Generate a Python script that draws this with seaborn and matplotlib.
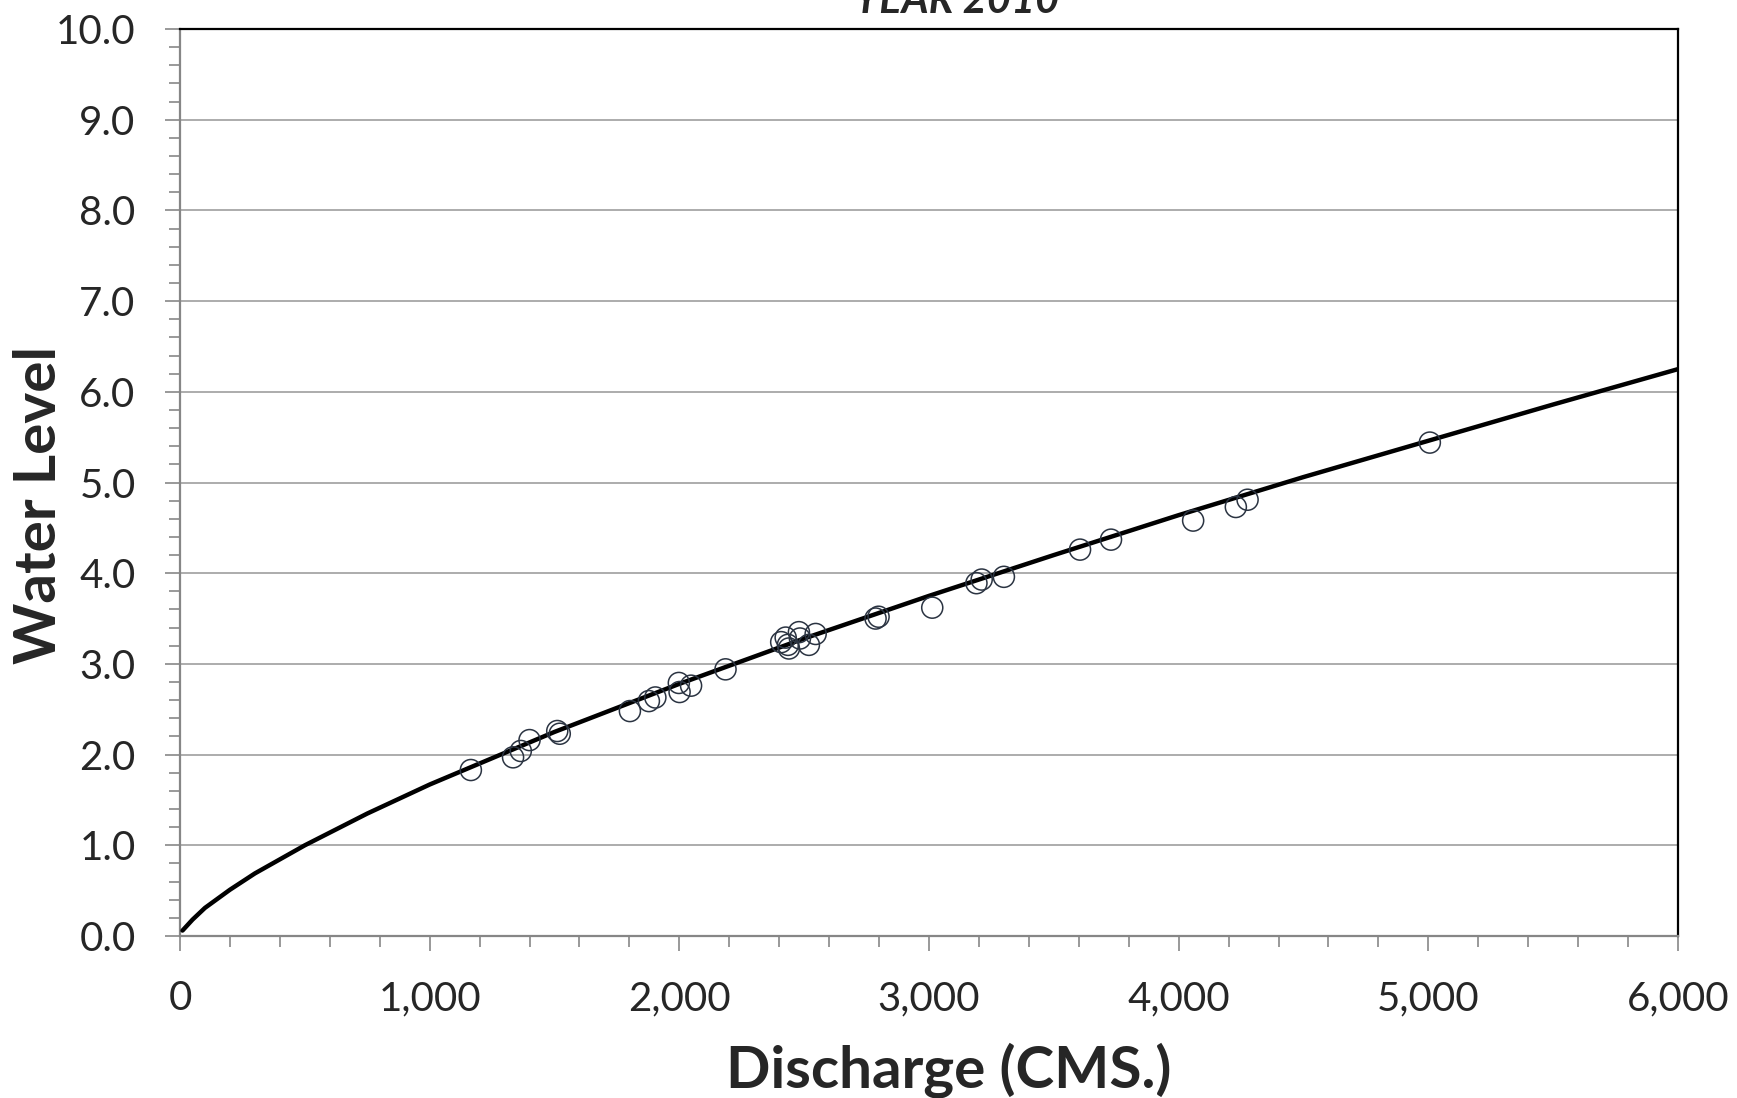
import numpy as np
import pandas as pd
import matplotlib
matplotlib.use("Agg")
import matplotlib.pyplot as plt
import matplotlib.ticker as mticker
import seaborn as sns

# measured discharge / water level
obs_q = [1165, 1334, 1365, 1400, 1511, 1521, 1802, 1878, 1904, 1998, 2001, 2047, 2185,
         2408, 2426, 2435, 2439, 2479, 2483, 2519, 2546, 2786, 2798, 3013, 3190, 3211,
         3300, 3605, 3729, 4058, 4229, 4276, 5006]
obs_h = [1.83, 1.97, 2.04, 2.16, 2.26, 2.23, 2.48, 2.59, 2.63, 2.79, 2.69, 2.76, 2.94,
         3.24, 3.29, 3.21, 3.17, 3.35, 3.28, 3.21, 3.33, 3.50, 3.52, 3.62, 3.89, 3.93,
         3.96, 4.26, 4.37, 4.58, 4.73, 4.81, 5.44]

# rating curve
curve_q = [10, 50, 100, 200, 300, 500, 750, 1000, 1500, 2000, 2500, 3000, 3500,
           4000, 4500, 5000, 5500, 6000]
curve_h = [0.06, 0.18, 0.31, 0.51, 0.69, 1.00, 1.35, 1.67, 2.25, 2.78, 3.28, 3.75,
           4.20, 4.64, 5.06, 5.46, 5.86, 6.25]

obs = pd.DataFrame({"Q": obs_q, "H": obs_h})
curve = pd.DataFrame({"Q": curve_q, "H": curve_h})

sns.set_style("white")
plt.rcParams["font.family"] = ["Lato", "DejaVu Sans"]

fig = plt.figure(figsize=(17.37, 10.98), dpi=100)
ax = fig.add_axes([180 / 1737, 1 - 936 / 1098, 1498 / 1737, 907 / 1098])

sns.lineplot(data=curve, x="Q", y="H", ax=ax, color="black", linewidth=3.2, zorder=3)
sns.scatterplot(data=obs, x="Q", y="H", ax=ax, marker="o", s=230,
                facecolors="none", edgecolor="#2b3442", linewidth=1.1, zorder=4)

ax.set_xlim(0, 6000)
ax.set_ylim(0, 10)
ax.xaxis.set_major_locator(mticker.MultipleLocator(1000))
ax.xaxis.set_minor_locator(mticker.MultipleLocator(200))
ax.yaxis.set_major_locator(mticker.MultipleLocator(1))
ax.yaxis.set_minor_locator(mticker.MultipleLocator(0.2))
ax.xaxis.set_major_formatter(mticker.FuncFormatter(lambda v, p: f"{v:,.0f}"))
ax.yaxis.set_major_formatter(mticker.FormatStrFormatter("%.1f"))

ax.grid(axis="y", which="major", color="#a6a6a6", linewidth=1.3)
ax.grid(axis="x", visible=False)
ax.set_axisbelow(True)

ax.tick_params(which="major", direction="out", length=11, width=1.2, color="#888888",
               labelsize=29, pad=21, bottom=True, left=True)
ax.tick_params(which="minor", direction="out", length=8, width=1.2, color="#888888",
               bottom=True, left=True)

for s in ["left", "bottom"]:
    ax.spines[s].set_color("#868686")
    ax.spines[s].set_linewidth(1.6)
for s in ["top", "right"]:
    ax.spines[s].set_color("black")
    ax.spines[s].set_linewidth(1.6)

ax.set_xlabel("Discharge (CMS.)", fontsize=42, fontweight="bold", va="center")
ax.set_ylabel("Water Level", fontsize=42, fontweight="bold", va="center")
ax.xaxis.set_label_coords(0.513, -0.148)
ax.yaxis.set_label_coords(-0.094, 0.475)

fig.text(957 / 1737, 1 - 13 / 1098, "YEAR 2010", fontsize=30, fontweight="bold",
         style="italic", ha="center", va="baseline")

fig.savefig("out.png", dpi=100)
